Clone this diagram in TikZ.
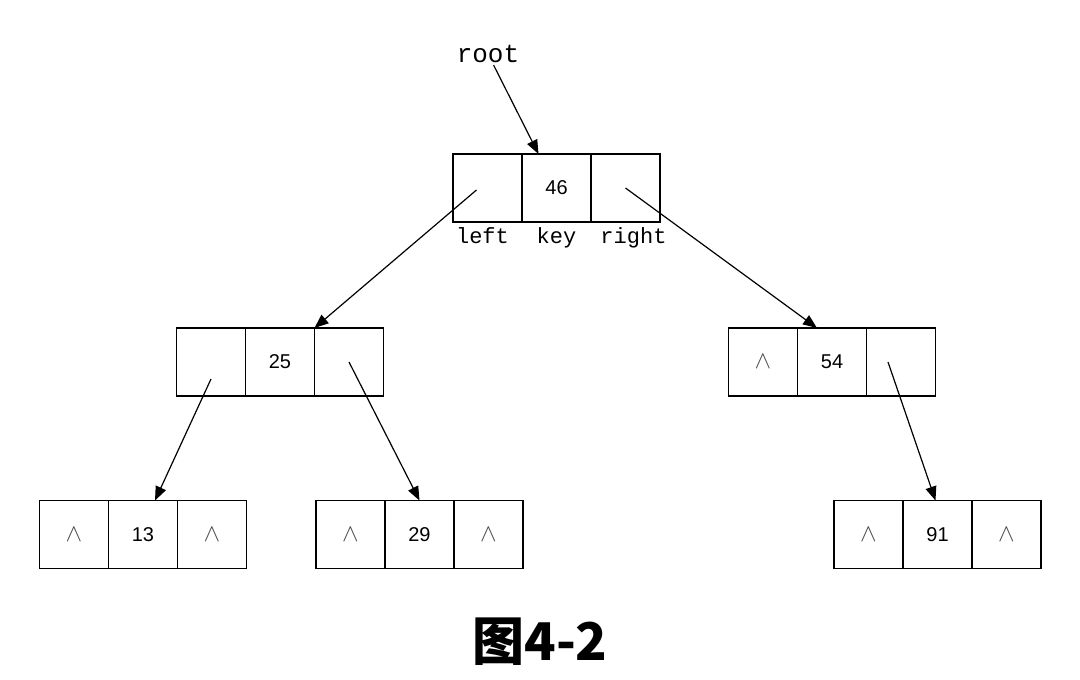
\documentclass[tikz,border=0pt]{standalone}
\usepackage{fontspec}
\setmainfont{Liberation Sans}
\setmonofont{Liberation Mono}
\newfontfamily\cjk{Noto Sans CJK SC}
\usetikzlibrary{arrows.meta,positioning}
\newcommand{\nullptr}{{\color{black!70}\fontsize{36}{36}\selectfont$\wedge$}}

\begin{document}
\begin{tikzpicture}[x=1pt, y=-1pt,
          cell/.style={rectangle,draw,line width=1.7pt,minimum width=69pt,minimum height=68pt,
                       inner sep=0pt,outer sep=0pt,font=\fontsize{20}{22}\selectfont},
          lbl/.style={font=\ttfamily\fontsize{22}{22}\selectfont,inner sep=0pt,anchor=base},
          ptr/.style={-{Triangle[length=14pt,width=11pt]},line width=1.2pt}
      ]
        \useasboundingbox (0,0) rectangle (1080,680);
        % root node
        \node[cell]                   (n46k) at (556.5,188) {46};
        \node[cell,left=0pt of n46k]  (n46l) {};
        \node[cell,right=0pt of n46k] (n46r) {};
        \node[lbl] (tleft)  at ([yshift=-21pt,xshift=-5pt]n46l.south) {left};
        \node[lbl] (tkey)   at ([yshift=-21pt]n46k.south) {key};
        \node[lbl] (tright) at ([yshift=-21pt,xshift=8pt]n46r.south) {right};
        \node[font=\ttfamily\fontsize{26}{26}\selectfont,inner sep=2pt] (root) at (488,54) {root};
        % second level
        \node[cell]                   (n25k) at (280,362) {25};
        \node[cell,left=0pt of n25k]  (n25l) {};
        \node[cell,right=0pt of n25k] (n25r) {};
        \node[cell]                   (n54k) at (832,362) {54};
        \node[cell,left=0pt of n54k]  (n54l) {\nullptr};
        \node[cell,right=0pt of n54k] (n54r) {};
        % leaves
        \node[cell]                   (n13k) at (143,534.5) {13};
        \node[cell,left=0pt of n13k]  (n13l) {\nullptr};
        \node[cell,right=0pt of n13k] (n13r) {\nullptr};
        \node[cell]                   (n29k) at (419.5,534.5) {29};
        \node[cell,left=0pt of n29k]  (n29l) {\nullptr};
        \node[cell,right=0pt of n29k] (n29r) {\nullptr};
        \node[cell]                   (n91k) at (937.5,534.5) {91};
        \node[cell,left=0pt of n91k]  (n91l) {\nullptr};
        \node[cell,right=0pt of n91k] (n91r) {\nullptr};
        % pointers
        \draw[ptr] (root) -- ([xshift=-18pt]n46k.north);
        \draw[ptr] ([shift={(-11,2)}]n46l.center) -- (n25k.north east);
        \draw[ptr] (n46r.center) -- ([xshift=-15pt]n54k.north);
        \draw[ptr] ([shift={(0,17)}]n25l.center) -- ([xshift=12pt]n13k.north);
        \draw[ptr] (n25r.center) -- (n29k.north);
        \draw[ptr] ([shift={(-13,0)}]n54r.center) -- ([xshift=-2pt]n91k.north);
        \node[font=\cjk\bfseries\fontsize{52}{52}\selectfont] (cap) at (540,642) {图4-2};
      \end{tikzpicture}
\end{document}
